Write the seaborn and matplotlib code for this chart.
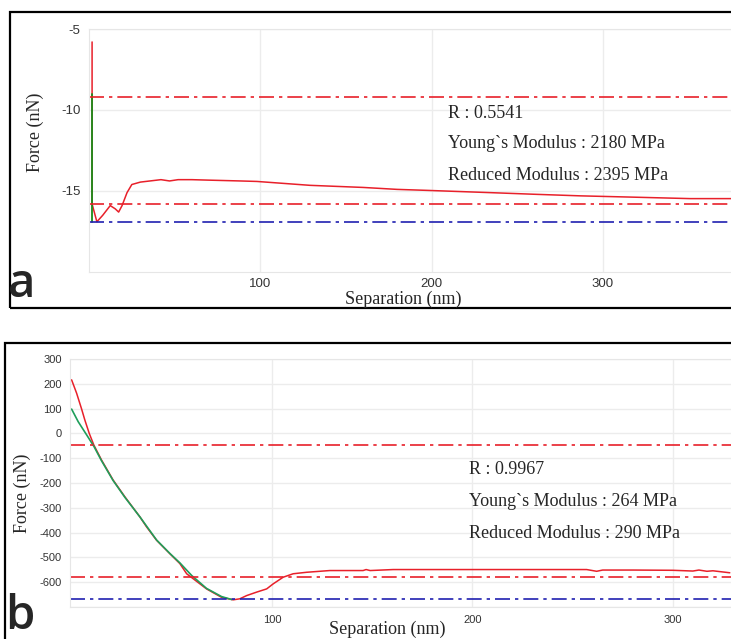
import numpy as np
import pandas as pd
import matplotlib
matplotlib.use("Agg")
import matplotlib.pyplot as plt
from matplotlib.patches import Rectangle
import seaborn as sns

# ---------------- data ----------------
# Panel a
a_red_x = [1.8, 1.8, 4.6, 8.0, 12.4, 15.3, 17.3, 19.3, 22.2, 25.0, 30.0, 42.0, 47.0, 52.0,
           60.0, 70.0, 88.3, 98.0, 129.0, 160.0, 179.8, 197.0, 234.0, 259.5, 287.0, 314.0, 351.0, 375.0]
a_red_y = [-5.8, -15.8, -16.9, -16.5, -15.9, -16.1, -16.3, -15.9, -15.1, -14.6, -14.45, -14.3, -14.38, -14.3,
           -14.3, -14.33, -14.38, -14.41, -14.65, -14.78, -14.9, -14.96, -15.1, -15.2, -15.3, -15.37, -15.47, -15.47]
a_fit_x = [1.8, 1.8]
a_fit_y = [-9.0, -16.9]
a_hlines_red = [-9.18, -15.82]
a_hline_blue = -16.92
a_xticks = [100, 200, 300]
a_yticks = [-5, -10, -15]
a_text = ["R : 0.5541", "Young`s Modulus : 2180 MPa", "Reduced Modulus : 2395 MPa"]

# Panel b
b_red_x = [0.1, 2.6, 5.1, 6.7, 8.9, 11.2, 15.0, 20.8, 26.7, 34.2, 37.5, 42.5, 49.1, 54.1, 57.5, 67.4,
           74.9, 80.7, 84.0, 87.4, 92.4, 97.4, 100.6, 105.6, 110.6, 117.3, 128.9, 145.5, 147.0, 149.0,
           160.5, 200.0, 257.0, 262.0, 265.0, 280.0, 300.0, 310.0, 313.0, 317.0, 320.0, 328.4]
b_red_y = [216, 162, 98, 54, 0, -47, -107, -188, -256, -337, -377, -431, -485, -525, -566, -627,
           -661, -671, -667, -654, -640, -627, -607, -580, -566, -560, -553, -553, -549, -553,
           -549, -549, -549, -556, -551, -551, -552, -555, -551, -556, -554, -562]
b_fit_x = [0.1, 3.4, 7.6, 11.2, 15.0, 20.8, 26.7, 34.2, 42.5, 49.1, 54.1, 60.0, 67.4, 74.9, 80.0]
b_fit_y = [98, 47, -6, -52, -110, -190, -258, -337, -430, -484, -522, -573, -625, -658, -670]
b_hlines_red = [-47, -580]
b_hline_blue = -668
b_xticks = [100, 200, 300]
b_yticks = [300, 200, 100, 0, -100, -200, -300, -400, -500, -600]
b_text = ["R : 0.9967", "Young`s Modulus : 264 MPa", "Reduced Modulus : 290 MPa"]

# ---------------- style ----------------
sns.set_style("white")
plt.rcParams['font.family'] = ['Liberation Sans', 'DejaVu Sans']
plt.rcParams['axes.unicode_minus'] = False

W, H = 731, 639
fig = plt.figure(figsize=(W / 100, H / 100), dpi=100)


def fx(px):
    return px / W


def fy(py):
    return 1 - py / H


RED = '#e8202a'
BLUE = '#2020b0'
GRID = '#ececec'
SERIF = ['Liberation Serif', 'DejaVu Serif']
DASHDOT = (0, (9, 3, 2, 3))


def style_axes(ax, xticks, yticks, fs, xpad):
    ax.set_xticks(xticks)
    ax.set_yticks(yticks)
    ax.grid(True, color=GRID, lw=1.0)
    ax.tick_params(length=0, labelsize=fs, colors='#333333', pad=6)
    ax.tick_params(axis='x', pad=xpad)
    for s in ax.spines.values():
        s.set_color('#e6e6e6')
        s.set_linewidth(0.8)
    ax.spines['right'].set_visible(False)
    ax.set_xlabel("")
    ax.set_ylabel("")


# Border boxes
fig.patches.append(Rectangle((fx(10), fy(308)), fx(760) - fx(10), fy(12) - fy(308),
                             transform=fig.transFigure, fill=False, lw=1.6, ec='black'))
fig.patches.append(Rectangle((fx(5), fy(680)), fx(760) - fx(5), fy(343) - fy(680),
                             transform=fig.transFigure, fill=False, lw=1.6, ec='black'))

# ---------------- panel a ----------------
axa = fig.add_axes([fx(89), fy(272), fx(740) - fx(89), fy(29) - fy(272)])
dfa = pd.DataFrame({'x': a_red_x, 'y': a_red_y})
sns.lineplot(data=dfa, x='x', y='y', ax=axa, color=RED, lw=1.1, sort=False, estimator=None)
dfa_fit = pd.DataFrame({'x': a_fit_x, 'y': a_fit_y})
sns.lineplot(data=dfa_fit, x='x', y='y', ax=axa, color='#1a8c1a', lw=1.3, sort=False, estimator=None)
for v in a_hlines_red:
    axa.axhline(v, color=RED, lw=1.2, ls=DASHDOT)
axa.axhline(a_hline_blue, color=BLUE, lw=1.2, ls=DASHDOT)
axa.set_xlim(0, 380)
axa.set_ylim(-20, -5)
style_axes(axa, a_xticks, a_yticks, 9.5, 4)

fig.text(fx(35), fy(132), "Force (nN)", rotation=90, ha='center', va='center', fontsize=13, family=SERIF)
fig.text(fx(403), fy(299), "Separation (nm)", ha='center', va='center', fontsize=13, family=SERIF)
for i, t in enumerate(a_text):
    fig.text(fx(448), fy(113 + i * 31), t, ha='left', va='center', fontsize=13, family=SERIF)
fig.text(fx(8), fy(297), "a", ha='left', va='baseline', fontsize=34, weight='semibold',
         family=['Open Sans', 'DejaVu Sans'])

# ---------------- panel b ----------------
axb = fig.add_axes([fx(70), fy(607), fx(740) - fx(70), fy(359) - fy(607)])
dfb = pd.DataFrame({'x': b_red_x, 'y': b_red_y})
sns.lineplot(data=dfb, x='x', y='y', ax=axb, color=RED, lw=1.1, sort=False, estimator=None)
dfb_fit = pd.DataFrame({'x': b_fit_x, 'y': b_fit_y})
sns.lineplot(data=dfb_fit, x='x', y='y', ax=axb, color='#1f9e5a', lw=1.2, sort=False, estimator=None)
for v in b_hlines_red:
    axb.axhline(v, color=RED, lw=1.2, ls=DASHDOT)
axb.axhline(b_hline_blue, color=BLUE, lw=1.2, ls=DASHDOT)
axb.set_xlim(-0.7, 333.5)
axb.set_ylim(-700, 300)
style_axes(axb, b_xticks, b_yticks, 8, 6)
axb.set_yticks(list(range(-700, 301, 100)), minor=True)
axb.grid(True, which='minor', axis='y', color=GRID, lw=1.0)

fig.text(fx(22), fy(493), "Force (nN)", rotation=90, ha='center', va='center', fontsize=13, family=SERIF)
fig.text(fx(387), fy(629), "Separation (nm)", ha='center', va='center', fontsize=13, family=SERIF)
for i, t in enumerate(b_text):
    fig.text(fx(469), fy(470 + i * 31.5), t, ha='left', va='center', fontsize=13, family=SERIF)
fig.text(fx(5), fy(629), "b", ha='left', va='baseline', fontsize=34, weight='semibold',
         family=['Open Sans', 'DejaVu Sans'])

fig.savefig("out.png", dpi=100)
